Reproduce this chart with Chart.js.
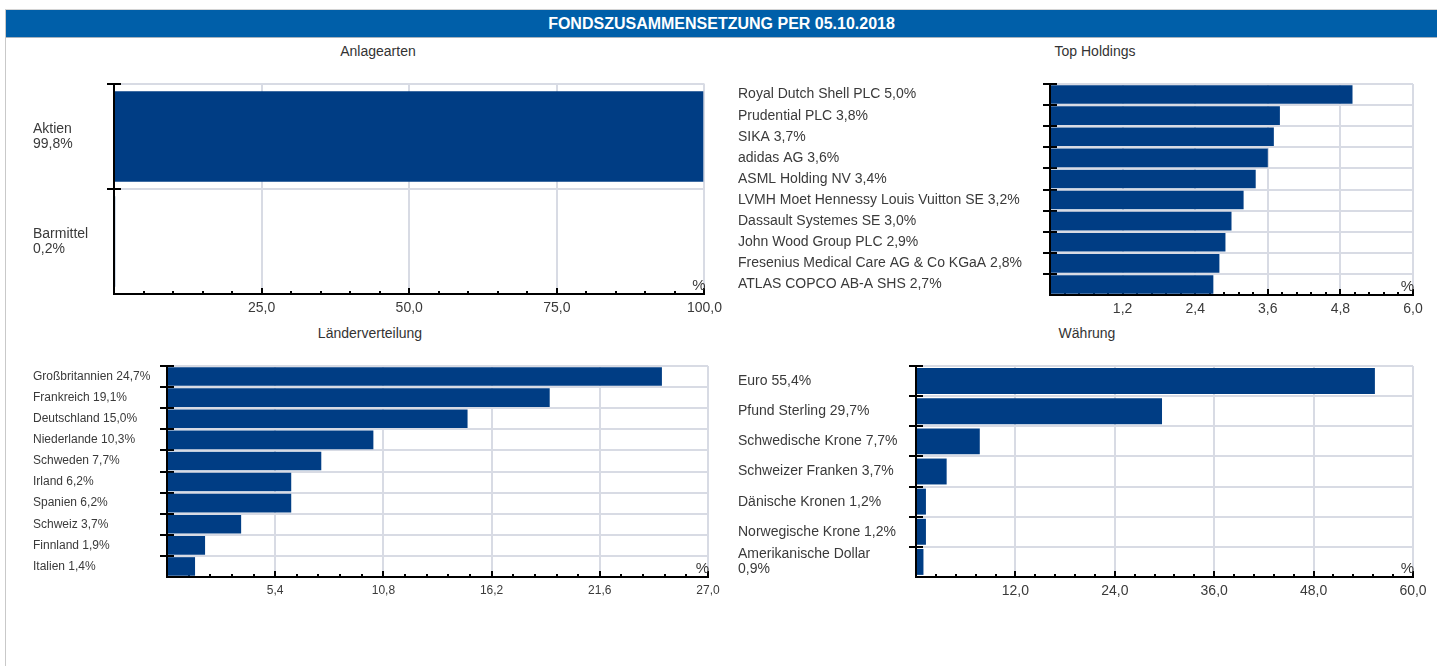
<!DOCTYPE html>
<html lang="de">
<head>
<meta charset="UTF-8">
<title>Fondszusammensetzung</title>
<style>
  body { margin: 0; background: #fff; overflow: hidden; font-family: "Liberation Sans", Arial, sans-serif; }
  .frame { position: absolute; left: 5px; top: 9px; width: 1440px; height: 700px; border-left: 1px solid #c9c9c9; border-top: 1px solid #d4d4d4; }
  .header { position: absolute; left: 6px; top: 10px; width: 1431px; height: 27px; background: #005fa9; border-bottom: 1px solid #a9b3bd;
            color: #fff; font-weight: bold; font-size: 16px; line-height: 27px; text-align: center; }
  .title { position: absolute; width: 300px; text-align: center; font-size: 14px; color: #333; line-height: 16px; }
  canvas { position: absolute; }
</style>
</head>
<body>
  <div class="frame"></div>
  <div class="header">FONDSZUSAMMENSETZUNG PER 05.10.2018</div>

  <div class="title" style="left:228px; top:43px;">Anlagearten</div>
  <div class="title" style="left:945px; top:43px;">Top Holdings</div>
  <div class="title" style="left:220px; top:325px;">Länderverteilung</div>
  <div class="title" style="left:937px; top:325px;">Währung</div>

  <canvas id="assets" width="695" height="254" style="left:33px; top:64px;"></canvas>
  <canvas id="holdings" width="695" height="255" style="left:738px; top:64px;"></canvas>
  <canvas id="countries" width="695" height="255" style="left:33px; top:346px;"></canvas>
  <canvas id="currencies" width="695" height="255" style="left:738px; top:346px;"></canvas>

<script src="https://cdn.jsdelivr.net/npm/chart.js"></script>
<script>
// Anlagearten
const assetNames = ['Aktien', 'Barmittel'];
const assetValues = [99.8, 0.2];

// Top Holdings
const holdingNames = ['Royal Dutch Shell PLC', 'Prudential PLC', 'SIKA', 'adidas AG', 'ASML Holding NV',
    'LVMH Moet Hennessy Louis Vuitton SE', 'Dassault Systemes SE', 'John Wood Group PLC',
    'Fresenius Medical Care AG & Co KGaA', 'ATLAS COPCO AB-A SHS'];
const holdingValues = [5.0, 3.8, 3.7, 3.6, 3.4, 3.2, 3.0, 2.9, 2.8, 2.7];

// Länderverteilung
const countryNames = ['Großbritannien', 'Frankreich', 'Deutschland', 'Niederlande', 'Schweden',
    'Irland', 'Spanien', 'Schweiz', 'Finnland', 'Italien'];
const countryValues = [24.7, 19.1, 15.0, 10.3, 7.7, 6.2, 6.2, 3.7, 1.9, 1.4];

// Währung
const currencyNames = ['Euro', 'Pfund Sterling', 'Schwedische Krone', 'Schweizer Franken',
    'Dänische Kronen', 'Norwegische Krone', 'Amerikanische Dollar'];
const currencyValues = [55.4, 29.7, 7.7, 3.7, 1.2, 1.2, 0.9];
const currencyWrapped = ['Amerikanische Dollar'];

// x-Achsen: Maximum und Schrittweite der Beschriftung
const assetAxis = [100, 25];
const holdingAxis = [6, 1.2];
const countryAxis = [27, 5.4];
const currencyAxis = [60, 12];

const BAR = '#003d84';
const GRID = '#d8dbe4';
const TEXT = '#3a3a3a';

Chart.defaults.font.family = '"Liberation Sans", Arial, sans-serif';

const fmt = v => v.toFixed(1).replace('.', ',');

// kleine Striche an den Achsen und das %-Zeichen
const axisMarks = {
    id: 'axisMarks',
    beforeDatasetsDraw(chart) {
        const { ctx, chartArea, scales: { x, y } } = chart;
        ctx.save();
        ctx.strokeStyle = '#000';
        ctx.lineWidth = 2;
        ctx.beginPath();
        const vals = x.ticks.map(t => t.value);
        for (let i = 0; i < vals.length; i++) {
            const px = Math.round(x.getPixelForValue(vals[i]));
            if (i > 0) {
                ctx.moveTo(px, chartArea.bottom);
                ctx.lineTo(px, chartArea.bottom - 6);
            }
            if (i < vals.length - 1) {
                const step = (vals[i + 1] - vals[i]) / 5;
                for (let k = 1; k < 5; k++) {
                    const mx = Math.round(x.getPixelForValue(vals[i] + k * step));
                    ctx.moveTo(mx, chartArea.bottom);
                    ctx.lineTo(mx, chartArea.bottom - 3);
                }
            }
        }
        const n = y.ticks.length;
        for (let i = 0; i < n; i++) {
            const py = Math.round(y.top + i * y.height / n);
            ctx.moveTo(chartArea.left - 7, py);
            ctx.lineTo(chartArea.left + 7, py);
        }
        ctx.stroke();

        ctx.fillStyle = TEXT;
        ctx.font = '15px "Liberation Sans", Arial, sans-serif';
        ctx.textAlign = 'right';
        ctx.textBaseline = 'bottom';
        ctx.fillText('%', chartArea.right + 1, chartArea.bottom - 1);
        ctx.restore();
    }
};

function makeChart(id, labels, values, axis, cfg) {
    return new Chart(document.getElementById(id), {
        type: 'bar',
        data: {
            labels: labels,
            datasets: [{
                data: values,
                backgroundColor: BAR,
                barPercentage: cfg.barPct,
                categoryPercentage: 1
            }]
        },
        options: {
            indexAxis: 'y',
            responsive: false,
            animation: false,
            layout: { padding: { top: 20, right: 20, left: 0, bottom: 0 } },
            plugins: {
                legend: { display: false },
                tooltip: { enabled: false }
            },
            scales: {
                x: {
                    min: 0,
                    max: axis[0],
                    ticks: {
                        stepSize: axis[1],
                        padding: 6,
                        color: TEXT,
                        font: { size: cfg.tickSize },
                        maxRotation: 0,
                        autoSkip: false,
                        callback: v => v === 0 ? '' : fmt(v)
                    },
                    grid: { color: GRID, lineWidth: 2, drawTicks: false },
                    border: { color: '#000', width: 2 },
                    afterFit: s => { s.height = 24; }
                },
                y: {
                    ticks: {
                        crossAlign: 'far',
                        padding: 0,
                        color: TEXT,
                        font: { size: cfg.labelSize, lineHeight: 1.1 },
                        autoSkip: false
                    },
                    grid: { color: GRID, lineWidth: 2, offset: true, drawTicks: false },
                    border: { color: '#000', width: 2 },
                    afterFit: s => { s.width = cfg.yWidth; }
                }
            }
        },
        plugins: [axisMarks]
    });
}

document.addEventListener('DOMContentLoaded', function () {
    makeChart('assets',
        assetNames.map((n, i) => [n, fmt(assetValues[i]) + '%']),
        assetValues, assetAxis,
        { barPct: 0.86, yWidth: 81, labelSize: 14, tickSize: 14 });

    makeChart('holdings',
        holdingNames.map((n, i) => n + ' ' + fmt(holdingValues[i]) + '%'),
        holdingValues, holdingAxis,
        { barPct: 0.88, yWidth: 312, labelSize: 14, tickSize: 14 });

    makeChart('countries',
        countryNames.map((n, i) => n + ' ' + fmt(countryValues[i]) + '%'),
        countryValues, countryAxis,
        { barPct: 0.88, yWidth: 134, labelSize: 12, tickSize: 12 });

    makeChart('currencies',
        currencyNames.map((n, i) => currencyWrapped.includes(n)
            ? [n, fmt(currencyValues[i]) + '%']
            : n + ' ' + fmt(currencyValues[i]) + '%'),
        currencyValues, currencyAxis,
        { barPct: 0.86, yWidth: 178, labelSize: 14, tickSize: 14 });
});
</script>
</body>
</html>
